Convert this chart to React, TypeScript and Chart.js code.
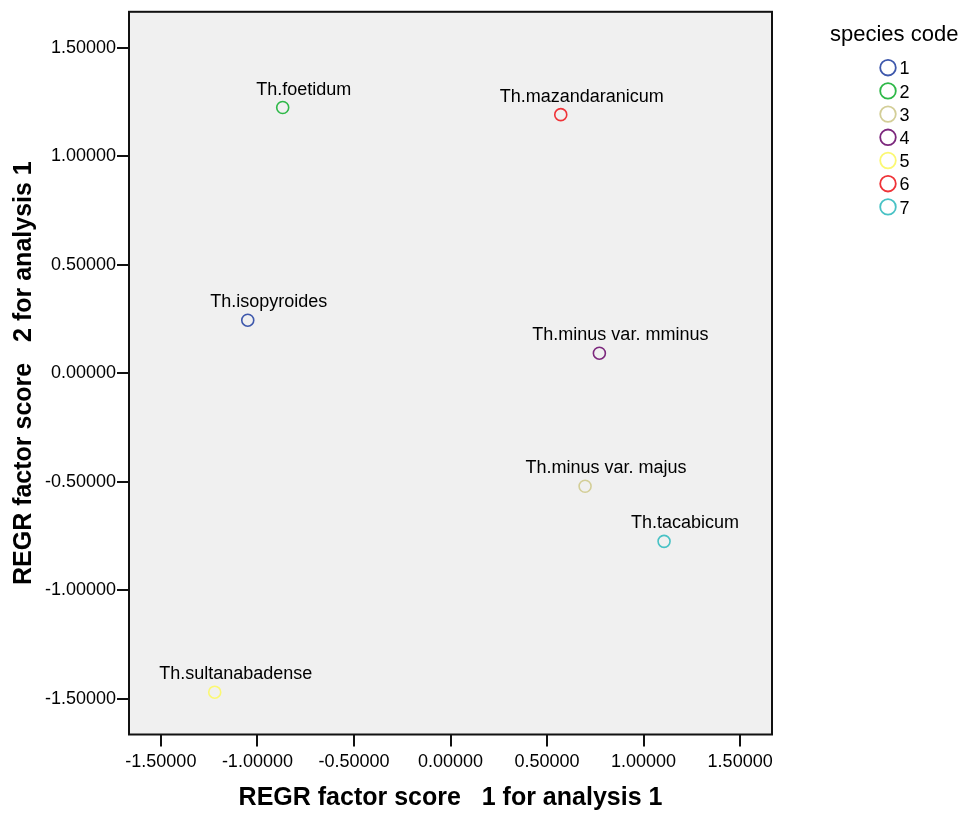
import React, { useEffect, useRef } from "react";
import { Chart, registerables } from "chart.js";

Chart.register(...registerables);

const speciesNames = [
  "Th.isopyroides",
  "Th.foetidum",
  "Th.minus var. majus",
  "Th.minus var. mminus",
  "Th.sultanabadense",
  "Th.mazandaranicum",
  "Th.tacabicum",
];
const speciesCodes = ["1", "2", "3", "4", "5", "6", "7"];
const factor1Scores = [-1.05, -0.869, 0.697, 0.771, -1.221, 0.571, 1.106];
const factor2Scores = [0.244, 1.224, -0.521, 0.092, -1.47, 1.191, -0.775];
const speciesColors = ["#3E58AC", "#2EB848", "#D3CE97", "#7C287D", "#FBF873", "#EF3338", "#48C2C5"];
const xTickValues = [-1.5, -1.0, -0.5, 0.0, 0.5, 1.0, 1.5];
const yTickValues = [-1.5, -1.0, -0.5, 0.0, 0.5, 1.0, 1.5];
const xTitle = "REGR factor score   1 for analysis 1";
const yTitle = "REGR factor score   2 for analysis 1";
const legendTitle = "species code";

const FONT = "'Liberation Sans', Arial, sans-serif";

const plotFramePlugin = {
  id: "plotFrame",
  beforeDraw(chart: any) {
    const { ctx, chartArea: a } = chart;
    ctx.save();
    ctx.fillStyle = "#ffffff";
    ctx.fillRect(0, 0, chart.width, chart.height);
    ctx.fillStyle = "#f0f0f0";
    ctx.fillRect(a.left, a.top, a.right - a.left, a.bottom - a.top);
    ctx.restore();
  },
  afterDraw(chart: any) {
    const { ctx, chartArea: a } = chart;
    ctx.save();
    ctx.strokeStyle = "#111111";
    ctx.lineWidth = 2;
    ctx.strokeRect(a.left, a.top, a.right - a.left, a.bottom - a.top);
    ctx.restore();
  },
};

const pointLabelPlugin = {
  id: "pointLabels",
  afterDatasetsDraw(chart: any) {
    const { ctx } = chart;
    ctx.save();
    ctx.font = `18px ${FONT}`;
    ctx.fillStyle = "#000000";
    ctx.textAlign = "center";
    ctx.textBaseline = "alphabetic";
    chart.data.datasets.forEach((ds: any, i: number) => {
      const meta = chart.getDatasetMeta(i);
      const el = meta.data[0];
      if (!el) return;
      ctx.fillText(ds.label, el.x + 21, el.y - 13);
    });
    ctx.restore();
  },
};

const customLegendPlugin = {
  id: "customLegend",
  afterDraw(chart: any) {
    const { ctx } = chart;
    ctx.save();
    ctx.fillStyle = "#000000";
    ctx.font = `22px ${FONT}`;
    ctx.textAlign = "left";
    ctx.textBaseline = "alphabetic";
    ctx.fillText(legendTitle, 830, 40.5);
    ctx.font = `18px ${FONT}`;
    speciesCodes.forEach((code, i) => {
      const cy = 67.7 + i * 23.2;
      ctx.beginPath();
      ctx.arc(888, cy, 7.8, 0, Math.PI * 2);
      ctx.strokeStyle = speciesColors[i];
      ctx.lineWidth = 1.8;
      ctx.stroke();
      ctx.fillStyle = "#000000";
      ctx.fillText(code, 899.5, cy + 6.6);
    });
    ctx.restore();
  },
};

export default function App() {
  const canvasRef = useRef<HTMLCanvasElement | null>(null);

  useEffect(() => {
    document.body.style.margin = "0";
    const canvas = canvasRef.current;
    if (!canvas) return;
    const chart = new Chart(canvas, {
      type: "scatter",
      data: {
        datasets: speciesNames.map((name, i) => ({
          label: name,
          data: [{ x: factor1Scores[i], y: factor2Scores[i] }],
          borderColor: speciesColors[i],
          backgroundColor: "rgba(0,0,0,0)",
          pointRadius: 6,
          pointHoverRadius: 6,
          pointBorderWidth: 1.6,
          pointStyle: "circle",
        })),
      },
      options: {
        animation: false,
        responsive: false,
        maintainAspectRatio: false,
        layout: { padding: { left: 0, right: 193, top: 10, bottom: 0 } },
        plugins: {
          legend: { display: false },
          tooltip: { enabled: false },
        },
        scales: {
          x: {
            type: "linear",
            position: "bottom",
            min: -1.665,
            max: 1.665,
            afterFit: (s: any) => {
              s.height = 79.5;
            },
            afterBuildTicks: (s: any) => {
              s.ticks = xTickValues.map((v) => ({ value: v }));
            },
            grid: {
              drawOnChartArea: false,
              drawTicks: true,
              tickLength: 12,
              color: "#111111",
              lineWidth: 2,
            },
            border: { display: false },
            ticks: {
              color: "#000000",
              font: { family: FONT, size: 18 },
              padding: 5,
              maxRotation: 0,
              autoSkip: false,
              callback: (v: any) => Number(v).toFixed(5),
            },
            title: {
              display: true,
              text: xTitle,
              color: "#000000",
              font: { family: FONT, size: 25, weight: "bold" },
              padding: { top: 0, bottom: 1 },
            },
          },
          y: {
            type: "linear",
            min: -1.665,
            max: 1.665,
            afterFit: (s: any) => {
              s.width = 129;
            },
            afterBuildTicks: (s: any) => {
              s.ticks = yTickValues.map((v) => ({ value: v }));
            },
            grid: {
              drawOnChartArea: false,
              drawTicks: true,
              tickLength: 12,
              color: "#111111",
              lineWidth: 2,
            },
            border: { display: false },
            ticks: {
              color: "#000000",
              font: { family: FONT, size: 18 },
              padding: 1,
              autoSkip: false,
              callback: (v: any) => Number(v).toFixed(5),
            },
            title: {
              display: true,
              text: yTitle,
              color: "#000000",
              font: { family: FONT, size: 25, weight: "bold" },
              padding: { top: 9, bottom: 0 },
            },
          },
        },
      },
      plugins: [plotFramePlugin, pointLabelPlugin, customLegendPlugin],
    });
    return () => chart.destroy();
  }, []);

  return (
    <div style={{ width: 965, height: 814 }}>
      <canvas ref={canvasRef} width={965} height={814} style={{ display: "block" }} />
    </div>
  );
}
